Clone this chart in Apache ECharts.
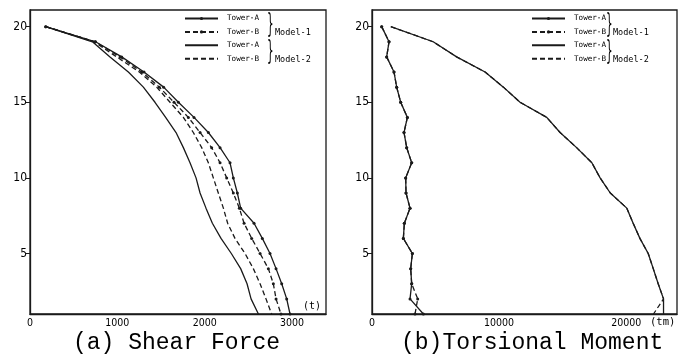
<!DOCTYPE html>
<html>
<head>
<meta charset="utf-8">
<script src="https://cdn.jsdelivr.net/npm/echarts@6/dist/echarts.min.js"></script>
<style>
  html, body { margin: 0; background: #fff; }
  #main { width: 678px; height: 357px; }
</style>
</head>
<body>
<div id="main"></div>
<script>
// floor levels, top to bottom
const floors = [20, 19, 18, 17, 16, 15, 14, 13, 12, 11, 10, 9, 8, 7, 6, 5, 4, 3, 2, 1];

// (a) shear force (t)
const shearM1A = [180, 750, 1050, 1305, 1530, 1699, 1878, 2042, 2176, 2290, 2328, 2374, 2412, 2565, 2660, 2748, 2817, 2882, 2939, 2977];
const shearM1B = [180, 745, 1031, 1279, 1481, 1649, 1813, 1947, 2080, 2176, 2252, 2328, 2397, 2451, 2538, 2634, 2729, 2786, 2817, 2874];
const shearM2A = [180, 715, 916, 1126, 1298, 1431, 1553, 1672, 1756, 1832, 1901, 1947, 2015, 2088, 2187, 2305, 2412, 2485, 2531, 2615];
const shearM2B = [180, 735, 992, 1252, 1450, 1603, 1756, 1870, 1966, 2042, 2099, 2156, 2214, 2263, 2347, 2462, 2557, 2634, 2702, 2767];

// (b) torsional moment (tm)
const torM1A = [764, 1339, 1155, 1732, 1942, 2257, 2782, 2520, 2730, 3123, 2651, 2677, 2992, 2546, 2467, 3176, 3045, 3123, 2992, 4042];
const torM1B = [764, 1339, 1155, 1732, 1942, 2257, 2782, 2520, 2730, 3123, 2651, 2677, 2992, 2546, 2467, 3176, 3045, 3123, 3596, 3386];
const torM2A = [1480, 4815, 6660, 8900, 10340, 11650, 13750, 14800, 16100, 17300, 17950, 18750, 20050, 20550, 21080, 21735, 22130, 22520, 22940, 22940];
const torM2B = [1480, 4815, 6660, 8900, 10340, 11650, 13750, 14800, 16100, 17300, 17950, 18750, 20050, 20550, 21080, 21735, 22130, 22520, 22940, 22150];

const yTicks = [5, 10, 15, 20];
const shearTicks = [0, 1000, 2000, 3000];
const torTicks = [0, 10000, 20000];

const ink = '#1a1a1a';
const pairs = (vals) => vals.map((v, i) => [v, floors[i]]);

const mkSeries = (name, vals, idx, dashed, dots) => ({
  name: name,
  type: 'line',
  xAxisIndex: idx,
  yAxisIndex: idx,
  data: pairs(vals),
  symbol: dots ? 'circle' : 'none',
  symbolSize: 3,
  itemStyle: { color: ink },
  lineStyle: { color: ink, width: 1.3, type: dashed ? [5, 3] : 'solid' },
  animation: false
});

const xAxisBase = (idx, max, ticks) => ({
  type: 'value', gridIndex: idx, min: 0, max: max,
  axisLine: { show: true, lineStyle: { color: ink, width: 1.3 } },
  axisTick: { show: false },
  splitLine: { show: false },
  axisLabel: { customValues: ticks, formatter: (v) => String(v), color: '#000', fontSize: 10.5, margin: 4, fontFamily: 'DejaVu Sans Condensed' }
});

const yAxisBase = (idx) => ({
  type: 'value', gridIndex: idx, min: 1, max: 21.1,
  axisLine: { show: true, lineStyle: { color: ink, width: 1.3 } },
  axisTick: { show: true, customValues: yTicks, length: 4, lineStyle: { color: ink } },
  splitLine: { show: false },
  axisLabel: { customValues: yTicks, color: '#000', fontSize: 12, margin: 3, fontFamily: 'DejaVu Sans Condensed' }
});

// model-1 items keep a small dot, model-2 items show the line only
const legendBase = (names, left) => ({
  data: names.map((n, i) => ({ name: n, itemStyle: { opacity: i < 2 ? 1 : 0 } })),
  left: left, top: 14, orient: 'vertical', padding: 0,
  itemWidth: 33, itemHeight: 4, itemGap: 4.4, selectedMode: false,
  formatter: (n) => n.endsWith('A') ? 'Tower-A' : 'Tower-B',
  textStyle: { fontFamily: 'DejaVu Sans Mono', fontSize: 7.6, color: '#000', padding: [0, 0, 0, 4], lineHeight: 9 }
});

const smallText = (x, y, text, size) => ({
  type: 'text', x: x, y: y,
  style: { text: text, fill: '#000', font: size + 'px "DejaVu Sans Mono"', verticalAlign: 'middle' }
});

const brace = (x, y) => ({
  type: 'text', x: x, y: y, scaleX: 0.4,
  style: { text: '}', fill: '#000', font: '26px "DejaVu Sans"', verticalAlign: 'middle' }
});

const chart = echarts.init(document.getElementById('main'));
chart.setOption({
  backgroundColor: '#fff',
  animation: false,
  grid: [
    { left: 30, top: 10, width: 296, height: 304, show: true, borderColor: ink, borderWidth: 1.3 },
    { left: 372, top: 10, width: 305, height: 304, show: true, borderColor: ink, borderWidth: 1.3 }
  ],
  xAxis: [xAxisBase(0, 3389, shearTicks), xAxisBase(1, 24000, torTicks)],
  yAxis: [yAxisBase(0), yAxisBase(1)],
  legend: [
    legendBase(['a1A', 'a1B', 'a2A', 'a2B'], 184),
    legendBase(['b1A', 'b1B', 'b2A', 'b2B'], 531)
  ],
  title: [
    { text: '(a) Shear Force', left: 73, top: 331, padding: 0,
      textStyle: { fontFamily: 'Liberation Mono', fontSize: 23, fontWeight: 'normal', color: '#000' } },
    { text: '(b)Torsional Moment', left: 401, top: 331, padding: 0,
      textStyle: { fontFamily: 'Liberation Mono', fontSize: 23, fontWeight: 'normal', color: '#000' } }
  ],
  graphic: [
    brace(267, 25.5), brace(267, 52.5),
    smallText(275, 33, 'Model-1', 8.5),
    smallText(275, 60, 'Model-2', 8.5),
    brace(606, 25.5), brace(606, 52.5),
    smallText(613, 33, 'Model-1', 8.5),
    smallText(613, 60, 'Model-2', 8.5),
    smallText(303, 306, '(t)', 10),
    smallText(650, 322, '(tm)', 10.5)
  ],
  series: [
    mkSeries('a1A', shearM1A, 0, false, true),
    mkSeries('a1B', shearM1B, 0, true, true),
    mkSeries('a2A', shearM2A, 0, false, false),
    mkSeries('a2B', shearM2B, 0, true, false),
    mkSeries('b1A', torM1A, 1, false, true),
    mkSeries('b1B', torM1B, 1, true, true),
    mkSeries('b2A', torM2A, 1, false, false),
    mkSeries('b2B', torM2B, 1, true, false)
  ]
});
</script>
</body>
</html>
